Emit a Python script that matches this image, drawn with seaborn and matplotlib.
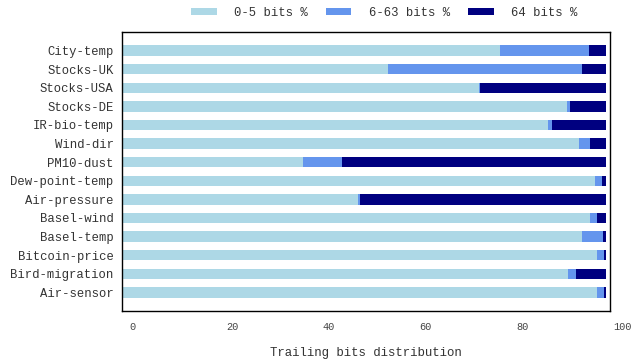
import matplotlib
matplotlib.use("Agg")
import matplotlib.pyplot as plt
import matplotlib.transforms as mtransforms
import seaborn as sns
import pandas as pd

datasets = ["City-temp", "Stocks-UK", "Stocks-USA", "Stocks-DE", "IR-bio-temp",
            "Wind-dir", "PM10-dust", "Dew-point-temp", "Air-pressure", "Basel-wind",
            "Basel-temp", "Bitcoin-price", "Bird-migration", "Air-sensor"]
bits_0_5 = [78.1, 55.0, 73.9, 92.1, 88.1, 94.4, 37.5, 97.9, 48.8, 96.7, 95.1, 98.3, 92.3, 98.3]
bits_6_63 = [18.4, 40.2, 0.2, 0.5, 0.9, 2.4, 8.0, 1.3, 0.5, 1.6, 4.3, 1.4, 1.5, 1.4]
bits_64 = [3.5, 4.8, 25.9, 7.4, 11.0, 3.2, 54.5, 0.8, 50.7, 1.7, 0.6, 0.3, 6.2, 0.3]
x_ticks = [0, 20, 40, 60, 80, 100]

series_names = ["0-5 bits %", "6-63 bits %", "64 bits %"]
colors = ["#add8e6", "#6495ed", "#000080"]

sns.set_style("white")
plt.rcParams["font.family"] = ["Liberation Mono", "DejaVu Sans Mono"]
plt.rcParams["text.color"] = "#333333"

df = pd.DataFrame({"dataset": datasets, "a": bits_0_5, "b": bits_6_63, "c": bits_64})
df["ab"] = df["a"] + df["b"]
df["abc"] = df["ab"] + df["c"]

fig = plt.figure(figsize=(6.35, 3.64), dpi=100)
ax = fig.add_axes([122 / 635, 1 - 311 / 364, 488 / 635, 279 / 364])

# stacked horizontal bars: draw cumulative totals back to front
for col, color, label in zip(["abc", "ab", "a"], colors[::-1], series_names[::-1]):
    sns.barplot(data=df, x=col, y="dataset", color=color, orient="h",
                width=0.56, ax=ax, label=label, linewidth=0, saturation=1)

ax.set_xlim(0, 100.9)
ax.set_ylim(len(datasets), -1)
ax.set_xticks(x_ticks)
ax.tick_params(axis="x", direction="in", length=5, width=0.8, color="#333333",
               labelsize=7.4, labelcolor="#444444", pad=8, top=False)
ax.tick_params(axis="y", length=0, labelsize=8.8, labelcolor="#333333", pad=6)

# x tick labels sit just right of their tick marks
shift = mtransforms.ScaledTranslation(0.075, 0, fig.dpi_scale_trans)
for lbl in ax.get_xticklabels():
    lbl.set_horizontalalignment("left")
    lbl.set_transform(lbl.get_transform() + shift)

ax.set_ylabel("")
ax.set_xlabel("Trailing bits distribution", fontsize=8.9, color="#333333", labelpad=11)
for s in ax.spines.values():
    s.set_visible(True)
    s.set_color("black")
    s.set_linewidth(1.0)

handles, labels = ax.get_legend_handles_labels()
order = [labels.index(n) for n in series_names]
ax.legend([handles[i] for i in order], [labels[i] for i in order],
          loc="center", bbox_to_anchor=(384 / 635, 1 - 13 / 364),
          bbox_transform=fig.transFigure, ncol=3, frameon=False,
          fontsize=8.8, handlelength=2.1, handleheight=0.45, columnspacing=1.5,
          handletextpad=1.4, borderpad=0, borderaxespad=0)

fig.savefig("out.png", dpi=100)
